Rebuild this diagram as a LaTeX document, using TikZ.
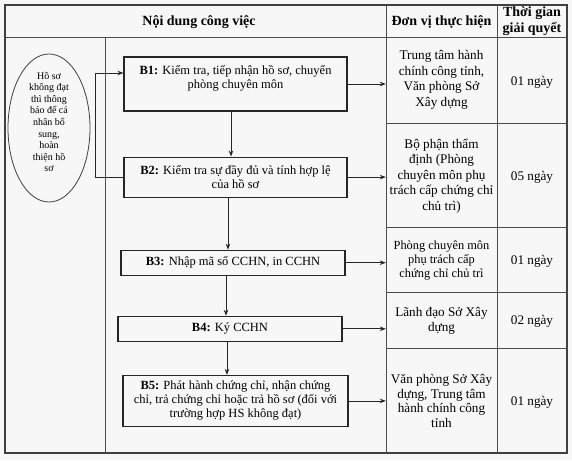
\documentclass[tikz,border=0pt]{standalone}
\usepackage{fontspec}
\setmainfont{Liberation Serif}
\usetikzlibrary{arrows.meta,positioning,shapes.geometric}

\begin{document}
\begin{tikzpicture}[x=1pt,y=-1pt,>={Stealth[length=6pt,width=4.5pt]},
    tableframe/.style={draw=black!75,line width=1.1pt},
    tableline/.style={draw=black!70,line width=0.7pt},
    flow/.style={->,draw=black!85,line width=0.8pt},
    stepbox/.style={draw=black!85,line width=1.1pt,align=center,inner sep=3pt,
        minimum width=223pt,font=\fontsize{12.5}{14}\selectfont},
    unitcell/.style={minimum width=111pt,align=center,inner sep=0pt,
        font=\fontsize{13.2}{15.5}\selectfont},
    daycell/.style={align=center,inner sep=0pt,font=\fontsize{13.2}{15.5}\selectfont},
    headcell/.style={align=center,inner sep=0pt,font=\bfseries\fontsize{14}{15.5}\selectfont},
    notebox/.style={ellipse,draw=black!75,line width=0.8pt,minimum width=82pt,
        minimum height=148pt,inner sep=0pt},
    notetext/.style={align=center,inner sep=0pt,font=\fontsize{10}{11.6}\selectfont}]
    \path[use as bounding box,fill=black!3] (0,0) rectangle (572,460);

    % table grid
    \draw[tableframe] (5,5) rectangle (567,453);
    \draw[tableline] (5,37) -- (567,37);
    \draw[tableline] (105,37) -- (105,453);
    \draw[tableline] (386,5) -- (386,453);
    \draw[tableline] (497,5) -- (497,453);
    \foreach \y in {123,227,292,348}
        \draw[tableline] (386,\y) -- (567,\y);

    % headers
    \node[headcell] (h_task) at (199,22)   {Nội dung công việc};
    \node[headcell] (h_unit) at (441.5,22) {Đơn vị thực hiện};
    \node[headcell] (h_time) at (532,21)   {Thời gian\\giải quyết};

    % feedback note
    \node[notebox]  (fb)     at (49,128) {};
    \node[notetext] (fb_txt) at ([yshift=6pt]fb.center)
        {Hồ sơ\\không đạt\\thì thông\\báo để cá\\nhân bổ\\sung,\\hoàn\\thiện hồ\\sơ};

    % steps
    \node[stepbox,minimum height=54pt] (b1) at (235.5,84)
        {\textbf{B1:} Kiểm tra, tiếp nhận hồ sơ, chuyển\\phòng chuyên môn\\ \mbox{}};
    \node[stepbox,minimum height=40pt] (b2) [below=45pt of b1]
        {\textbf{B2:} Kiểm tra sự đầy đủ và tính hợp lệ\\của hồ sơ};
    \node[stepbox,minimum height=25pt,minimum width=224pt] (b3) [below=52pt of b2,xshift=-2.5pt]
        {\textbf{B3:} Nhập mã số CCHN, in CCHN};
    \node[stepbox,minimum height=25pt,minimum width=224pt] (b4) [below=40pt of b3,xshift=-3pt]
        {\textbf{B4:} Ký CCHN};
    \node[stepbox,minimum height=51pt,minimum width=225pt] (b5) [below=33pt of b4,xshift=5.5pt]
        {\textbf{B5:} Phát hành chứng chỉ, nhận chứng\\chỉ, trả chứng chỉ hoặc trả hồ sơ (đối với\\trường hợp HS không đạt)};

    % units
    \node[unitcell] (u1) at (441.5,80)  {Trung tâm hành\\chính công tỉnh,\\Văn phòng Sở\\Xây dựng};
    \node[unitcell] (u2) at (441.5,176) {Bộ phận thẩm\\định (Phòng\\chuyên môn phụ\\trách cấp chứng chỉ\\chủ trì)};
    \node[unitcell,font=\fontsize{12.4}{14}\selectfont] (u3) at (441.5,261)
        {Phòng chuyên môn\\phụ trách cấp\\chứng chỉ chủ trì};
    \node[unitcell] (u4) at (441.5,321) {Lãnh đạo Sở Xây\\dựng};
    \node[unitcell,font=\fontsize{13.2}{14.5}\selectfont] (u5) at (441.5,401)
        {Văn phòng Sở Xây\\dựng, Trung tâm\\hành chính công\\tỉnh};

    % time
    \node[daycell] (d1) at (532,82)  {01 ngày};
    \node[daycell] (d2) at (532,177) {05 ngày};
    \node[daycell] (d3) at (532,261) {01 ngày};
    \node[daycell] (d4) at (532,321) {02 ngày};
    \node[daycell] (d5) at (532,402) {01 ngày};

    % connectors
    \draw[flow] ([xshift=-4.5pt]b1.south) -- ([xshift=-4.5pt]b1.south |- b2.north);
    \draw[flow] ([xshift=-7.5pt]b2.south) -- ([xshift=-7.5pt]b2.south |- b3.north);
    \draw[flow] ([xshift=-7pt]b3.south)   -- ([xshift=-7pt]b3.south |- b4.north);
    \draw[flow] ([xshift=-3pt]b4.south)   -- ([xshift=-3pt]b4.south |- b5.north);
    \foreach \i in {1,...,5}
        \draw[flow] (b\i.east) -- (b\i.east -| u\i.west);
    \draw[flow] (b2.west) -- ++(-28pt,0) |- ([yshift=11pt]b1.west);
\end{tikzpicture}
\end{document}
